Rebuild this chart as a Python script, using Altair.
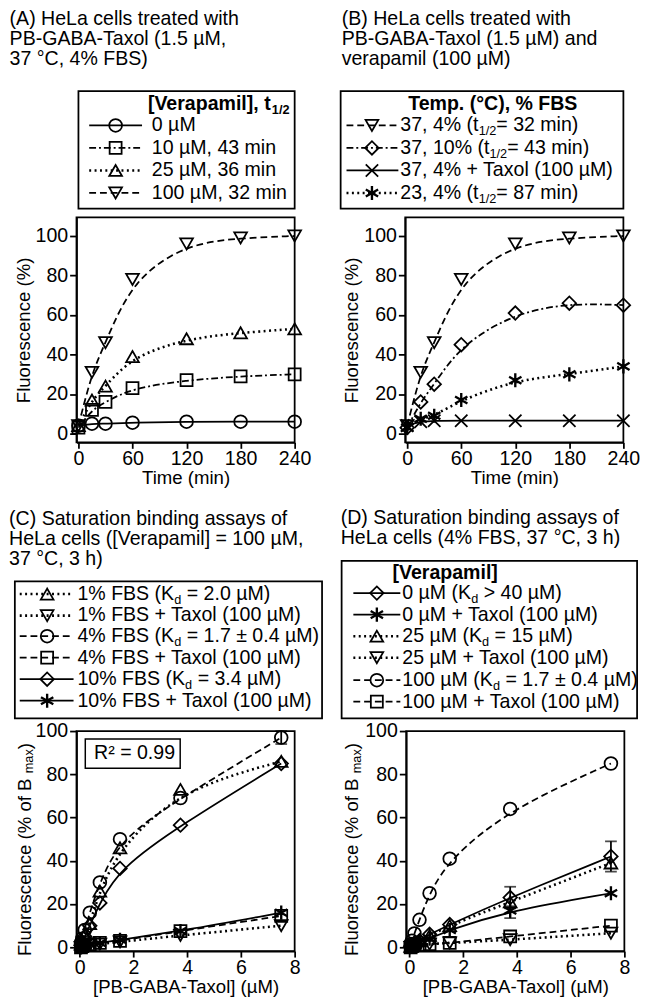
import altair as alt
import pandas as pd

FONT = "Liberation Sans"

# ---------------- values ----------------
# (A) time course at different verapamil concentrations
A_TIME = [0, 15, 30, 60, 120, 180, 240]
A_VER0 = [4, 5, 5, 5.5, 6, 6, 6]
A_VER10 = [3, 12, 16, 23, 27, 29, 30]
A_VER25 = [4, 17, 24, 39, 48, 51, 53]
A_VER100 = [4, 31, 46, 78, 96, 99, 100]
A_LABELS = [["0 µM"], ["10 µM, 43 min"], ["25 µM, 36 min"], ["100 µM, 32 min"]]
A_HEADER = ["[Verapamil], t", "1/2"]
A_TITLE = ["(A) HeLa cells treated with", "PB-GABA-Taxol (1.5 µM,", "37 °C, 4% FBS)"]

# (B) temperature / FBS
B_TIME = [0, 15, 30, 60, 120, 180, 240]
B_37_4 = [4, 31, 46, 78, 96, 99, 100]
B_37_10 = [3, 16, 25, 45, 61, 66, 65]
B_37_4_TAXOL = [4, 6, 6.5, 6.5, 6.5, 6.5, 6.5]
B_23_4 = [3, 7.5, 9, 17, 27, 30, 34]
B_LABELS = [["37, 4% (t", "1/2", "= 32 min)"], ["37, 10% (t", "1/2", "= 43 min)"],
            ["37, 4% + Taxol (100 µM)"], ["23, 4% (t", "1/2", "= 87 min)"]]
B_HEADER = ["Temp. (°C), % FBS"]
B_TITLE = ["(B) HeLa cells treated with", "PB-GABA-Taxol (1.5 µM) and", "verapamil (100 µM)"]

# (C) saturation binding, verapamil 100 µM
C_CONC = [0.047, 0.094, 0.1875, 0.375, 0.75, 1.5, 3.75, 7.5]
C_FBS1 = [1.5, 3, 6, 11, 26, 46, 73, 86]
C_FBS1_TAXOL = [0, 0.5, 1, 1, 1.5, 2.5, 5.5, 10]
C_FBS4 = [2, 4, 8, 16, 30, 50, 69, 97]
C_FBS4_TAXOL = [0, 0.5, 1, 1.5, 2, 3, 7.5, 14.5]
C_FBS10 = [1, 2.5, 5, 10, 20.5, 36.5, 56.5, 85]
C_FBS10_TAXOL = [0, 0.5, 1, 1.5, 2, 3.5, 7.5, 16]
C_ERR_X = [7.5]
C_ERR_LO = [94]
C_ERR_HI = [100]
C_LABELS = [["1% FBS (K", "d", " = 2.0 µM)"], ["1% FBS + Taxol (100 µM)"],
            ["4% FBS (K", "d", " = 1.7 ± 0.4 µM)"], ["4% FBS + Taxol (100 µM)"],
            ["10% FBS (K", "d", " = 3.4 µM)"], ["10% FBS + Taxol (100 µM)"]]
C_TITLE = ["(C) Saturation binding assays of", "HeLa cells ([Verapamil] = 100 µM,", "37 °C, 3 h)"]
C_R2 = "R² = 0.99"

# (D) saturation binding, 4% FBS
D_CONC = [0.047, 0.094, 0.1875, 0.375, 0.75, 1.5, 3.75, 7.5]
D_VER0 = [0.5, 1, 2, 3, 6, 10.5, 23, 42]
D_VER0_TAXOL = [0.5, 1, 1.5, 2.5, 4, 8, 17, 25]
D_VER25 = [0.5, 1, 2, 3, 5.5, 10, 21, 39]
D_VER25_TAXOL = [0, 0.5, 0.5, 1, 1.5, 2, 3.5, 6.5]
D_VER100 = [1.5, 3, 6.4, 12.7, 25, 41, 64, 85]
D_VER100_TAXOL = [0, 0.5, 1, 1, 1.5, 2, 5, 10]
D_ERR_X = [7.5, 3.75, 3.75]
D_ERR_LO = [35, 18, 13.5]
D_ERR_HI = [49, 28, 19]
D_LABELS = [["0 µM (K", "d", " > 40 µM)"], ["0 µM + Taxol (100 µM)"],
            ["25 µM (K", "d", " = 15 µM)"], ["25 µM + Taxol (100 µM)"],
            ["100 µM (K", "d", " = 1.7 ± 0.4 µM)"], ["100 µM + Taxol (100 µM)"]]
D_HEADER = ["[Verapamil]"]
D_TITLE = ["(D) Saturation binding assays of", "HeLa cells (4% FBS, 37 °C, 3 h)"]

Y_TITLE_B = ["Fluorescence (%  of B", "max", ")"]

# ---------------- styles ----------------
SHAPE = {"circle": "circle", "square": "square", "up": "triangle-up", "down": "triangle-down",
         "diamond": "diamond", "x": "M-1,-1L1,1M-1,1L1,-1",
         "star": "M0,-1L0,1M-0.87,-0.5L0.87,0.5M-0.87,0.5L0.87,-0.5"}
MSIZE = {"circle": 170, "square": 150, "up": 170, "down": 170, "diamond": 190, "x": 160, "star": 210}
MSTROKE = {"star": 2.4}
DASH = {"solid": None, "dashed": [7, 4], "dotted": [2, 3.5], "dashdot": [7, 3, 2, 3]}
LWIDTH = {"solid": 1.8, "dashed": 1.8, "dotted": 2.6, "dashdot": 1.8}

A_STYLES = [("circle", "solid"), ("square", "dashdot"), ("up", "dotted"), ("down", "dashed")]
B_STYLES = [("down", "dashed"), ("diamond", "dashdot"), ("x", "solid"), ("star", "dotted")]
C_STYLES = [("up", "dotted"), ("down", "dotted"), ("circle", "dashed"), ("square", "dashed"),
            ("diamond", "solid"), ("star", "solid")]
D_STYLES = [("diamond", "solid"), ("star", "solid"), ("up", "dotted"), ("down", "dotted"),
            ("circle", "dashed"), ("square", "dashed")]

# Arial / Liberation Sans advance widths (1/1000 em)
W = {' ': 278, '%': 889, '(': 333, ')': 333, '+': 584, ',': 278, '-': 333, '.': 278, '/': 278,
     '<': 584, '=': 584, '>': 584, '±': 584, 'µ': 576, '°': 400, '²': 333, '[': 278, ']': 278,
     'A': 667, 'B': 667, 'C': 722, 'D': 722, 'F': 611, 'G': 778, 'H': 722, 'K': 667, 'L': 556,
     'M': 833, 'P': 667, 'R': 722, 'S': 667, 'T': 611, 'V': 667,
     'a': 556, 'b': 556, 'c': 500, 'd': 556, 'e': 556, 'f': 278, 'g': 556, 'h': 556, 'i': 222,
     'l': 222, 'm': 833, 'n': 556, 'o': 556, 'p': 556, 'r': 333, 's': 500, 't': 278, 'u': 556,
     'v': 500, 'w': 722, 'x': 500, 'y': 500}
WB = {' ': 278, ',': 278, '[': 333, ']': 333, 'V': 667, 'e': 556, 'r': 389, 'a': 556, 'p': 611,
      'm': 889, 'i': 278, 'l': 278, 't': 333, '/': 278, '(': 333, ')': 333, '.': 278, '°': 400,
      '%': 889, 'T': 611, 'C': 722, 'F': 611, 'B': 722, 'S': 667}


def tw(s, size, bold=False):
    table = WB if bold else W
    return sum(table.get(c, 556) for c in s) * size / 1000.0


def PX(f):
    return alt.X(f"{f}:Q", scale=None, axis=None)


def PY(f):
    return alt.Y(f"{f}:Q", scale=None, axis=None)


def line_kw(dash, interp=True):
    kw = dict(color="black", strokeWidth=LWIDTH[dash])
    if interp:
        kw["interpolate"] = "basis"
    if DASH[dash]:
        kw["strokeDash"] = DASH[dash]
    return kw


def point_kw(shape):
    return dict(shape=SHAPE[shape], filled=False, size=MSIZE[shape], color="black",
                strokeWidth=MSTROKE.get(shape, 1.8), opacity=1)


def text_layer(rows, size, bold=False, dy=0, angle=None):
    kw = dict(align="left", baseline="middle", fontSize=size, font=FONT, color="black")
    if bold:
        kw["fontWeight"] = "bold"
    if dy:
        kw["dy"] = dy
    if angle is not None:
        kw["angle"] = angle
    return alt.Chart(pd.DataFrame(rows)).mark_text(**kw).encode(x=PX("px"), y=PY("py"), text="t:N")


def segments(parts, x0, y, size, sub_size, bold=False):
    main, sub = [], []
    pos = x0
    for k, p in enumerate(parts):
        is_sub = k % 2 == 1
        fs = sub_size if is_sub else size
        lead = len(p) - len(p.lstrip(" "))
        pos += tw(" " * lead, fs, bold)
        p = p.lstrip(" ")
        (sub if is_sub else main).append({"px": pos, "py": y, "t": p})
        pos += tw(p, fs, bold)
    return main, sub


def vsegments(parts, x, y0, size, sub_size):
    main, sub = [], []
    pos = y0
    for k, p in enumerate(parts):
        is_sub = k % 2 == 1
        (sub if is_sub else main).append({"px": x, "py": pos, "t": p})
        pos -= tw(p, sub_size if is_sub else size)
    return main, sub


def panel(xs, series, styles, labels, header, g, X, Y, title, extra=()):
    df = pd.DataFrame([{"series": f"s{i}", "x": x, "y": v}
                       for i, vals in enumerate(series) for x, v in zip(xs, vals)])
    layers = []
    for i, (shape, dash) in enumerate(styles):
        src = alt.Chart(df).transform_filter(alt.datum.series == f"s{i}")
        layers.append(src.mark_line(**line_kw(dash)).encode(x=X("x"), y=Y("y")))
    for i, (shape, dash) in enumerate(styles):
        src = alt.Chart(df).transform_filter(alt.datum.series == f"s{i}")
        layers.append(src.mark_point(**point_kw(shape)).encode(x=X("x"), y=Y("y")))
    layers.extend(extra)
    # legend frame
    bx = pd.DataFrame([{"x1": g["box"][0], "x2": g["box"][1], "y1": g["box"][2], "y2": g["box"][3]}])
    layers.append(alt.Chart(bx).mark_rect(fill="transparent", stroke="black", strokeWidth=1.8)
                  .encode(x=PX("x1"), x2="x2:Q", y=PY("y1"), y2="y2:Q"))
    # legend glyphs
    for (shape, dash), y in zip(styles, g["rows"]):
        gd = pd.DataFrame([{"a": g["glyph"][0], "b": g["glyph"][1], "m": g["glyph"][2], "y": y}])
        layers.append(alt.Chart(gd).mark_rule(**line_kw(dash, interp=False))
                      .encode(x=PX("a"), x2="b:Q", y=PY("y")))
        layers.append(alt.Chart(gd).mark_point(**point_kw(shape)).encode(x=PX("m"), y=PY("y")))
    # legend texts
    main, sub = [], []
    for parts, y in zip(labels, g["rows"]):
        m, s = segments(parts, g["tx"], y, 20, 13)
        main += m
        sub += s
    layers.append(text_layer(main, 20))
    if sub:
        layers.append(text_layer(sub, 13, dy=6))
    if header:
        hm, hs = segments(header, g["hx"], g["hy"], 20, 13, bold=True)
        layers.append(text_layer(hm, 20, bold=True))
        if hs:
            layers.append(text_layer(hs, 13, bold=True, dy=6))
    return alt.layer(*layers).properties(width=g["w"], height=g["h"], title=title)


def make_title(lines, offset, dx):
    return alt.TitleParams(text=lines, anchor="start", frame="bounds", offset=offset, dx=dx,
                           fontSize=20, fontWeight="normal", font=FONT, lineHeight=20.5,
                           color="black")


def axis_fns(xdom, xvals, xtitle, ydom, ytitle):
    xs = alt.Scale(domain=xdom, nice=False, zero=False)
    ys = alt.Scale(domain=ydom, nice=False, zero=False)
    xa = alt.Axis(values=xvals, title=xtitle)
    ya = alt.Axis(values=[0, 20, 40, 60, 80, 100], title=ytitle)

    def X(f):
        return alt.X(f"{f}:Q", scale=xs, axis=xa)

    def Y(f):
        return alt.Y(f"{f}:Q", scale=ys, axis=ya)
    return X, Y


def error_layers(X, Y, xs, lo, hi):
    e = pd.DataFrame({"x": xs, "lo": lo, "hi": hi})
    base = alt.Chart(e)
    return [
        base.mark_rule(color="black", strokeWidth=1.8).encode(x=X("x"), y=Y("lo"), y2="hi:Q"),
        base.mark_tick(orient="horizontal", size=12, thickness=1.8, color="black").encode(x=X("x"), y=Y("lo")),
        base.mark_tick(orient="horizontal", size=12, thickness=1.8, color="black").encode(x=X("x"), y=Y("hi")),
    ]


def ytitle_layers(parts, x, y0):
    m, s = vsegments(parts, x, y0, 19, 13)
    return [text_layer(m, 19, angle=270), text_layer(s, 13, dy=5, angle=270)]


# ---------------- panel A ----------------
XA, YA = axis_fns([-2.2, 240], [0, 60, 120, 180, 240], "Time (min)", [-4.5, 109.4], "Fluorescence (%)")
gA = dict(w=223, h=230, box=(2, 223, -129, -9), rows=[-94, -71, -48, -25], glyph=(13, 67, 40),
          tx=77, hx=73, hy=-116)
pA = panel(A_TIME, [A_VER0, A_VER10, A_VER25, A_VER100], A_STYLES, A_LABELS, A_HEADER, gA, XA, YA,
           make_title(A_TITLE, 22, -5))

# ---------------- panel B ----------------
XB, YB = axis_fns([-2.2, 240], [0, 60, 120, 180, 240], "Time (min)", [-4.5, 109.4], "Fluorescence (%)")
gB = dict(w=223, h=230, box=(-66, 223, -129, -9), rows=[-94, -71, -48, -25], glyph=(-60, -7, -34),
          tx=-5, hx=3, hy=-116)
pB = panel(B_TIME, [B_37_4, B_37_10, B_37_4_TAXOL, B_23_4], B_STYLES, B_LABELS, B_HEADER, gB, XB, YB,
           make_title(B_TITLE, 22, 2))

# ---------------- panel C ----------------
XC, YC = axis_fns([-0.12, 8], [0, 2, 4, 6, 8], "[PB-GABA-Taxol] (µM)", [-1.8, 100], None)
r2 = pd.DataFrame([{"x1": 9, "x2": 106, "y1": 8, "y2": 38, "px": 18, "py": 23, "t": C_R2}])
c_extra = error_layers(XC, YC, C_ERR_X, C_ERR_LO, C_ERR_HI) + [
    alt.Chart(r2).mark_rect(fill="white", stroke="black", strokeWidth=1.5)
    .encode(x=PX("x1"), x2="x2:Q", y=PY("y1"), y2="y2:Q"),
    alt.Chart(r2).mark_text(align="left", baseline="middle", fontSize=20, font=FONT, color="black")
    .encode(x=PX("px"), y=PY("py"), text="t:N"),
] + ytitle_layers(Y_TITLE_B, -53, 230)
gC = dict(w=223, h=225, box=(-63, 251, -153, -13), rows=[-140, -118, -97, -75, -53, -31],
          glyph=(-58, -3, -30), tx=1, hx=0, hy=0)
pC = panel(C_CONC, [C_FBS1, C_FBS1_TAXOL, C_FBS4, C_FBS4_TAXOL, C_FBS10, C_FBS10_TAXOL], C_STYLES,
           C_LABELS, None, gC, XC, YC, make_title(C_TITLE, 12, -5), c_extra)

# ---------------- panel D ----------------
XD, YD = axis_fns([-0.12, 8], [0, 2, 4, 6, 8], "[PB-GABA-Taxol] (µM)", [-1.8, 100], None)
d_extra = error_layers(XD, YD, D_ERR_X, D_ERR_LO, D_ERR_HI) + ytitle_layers(Y_TITLE_B, -55, 230)
gD = dict(w=223, h=225, box=(-66, 236, -174, -13), rows=[-141, -119, -97, -75, -52, -30],
          glyph=(-54, -6, -30), tx=-4, hx=-14, hy=-161)
pD = panel(D_CONC, [D_VER0, D_VER0_TAXOL, D_VER25, D_VER25_TAXOL, D_VER100, D_VER100_TAXOL], D_STYLES,
           D_LABELS, D_HEADER, gD, XD, YD, make_title(D_TITLE, 12, 0), d_extra)

row1 = alt.hconcat(pA, pB, spacing=27)
row2 = alt.hconcat(pC, pD, spacing=16)
fig = alt.vconcat(row1, row2, spacing=19).properties(
    padding={"left": 0, "top": -11, "right": 0, "bottom": 0})

chart = fig.configure(font=FONT).configure_view(stroke="black", strokeWidth=1.8).configure_axis(
    labelFont=FONT, titleFont=FONT, labelFontSize=20, titleFontSize=19, labelColor="black",
    titleColor="black", titleFontWeight="normal", domainColor="black", domainWidth=1.8,
    tickColor="black", tickWidth=1.8, tickSize=7, grid=False, labelPadding=2, titlePadding=2,
    labelFlush=False
).configure_axisX(tickSize=6, labelPadding=1, titlePadding=0)

chart.save("out.html", embed_options={"renderer": "svg", "actions": False})
